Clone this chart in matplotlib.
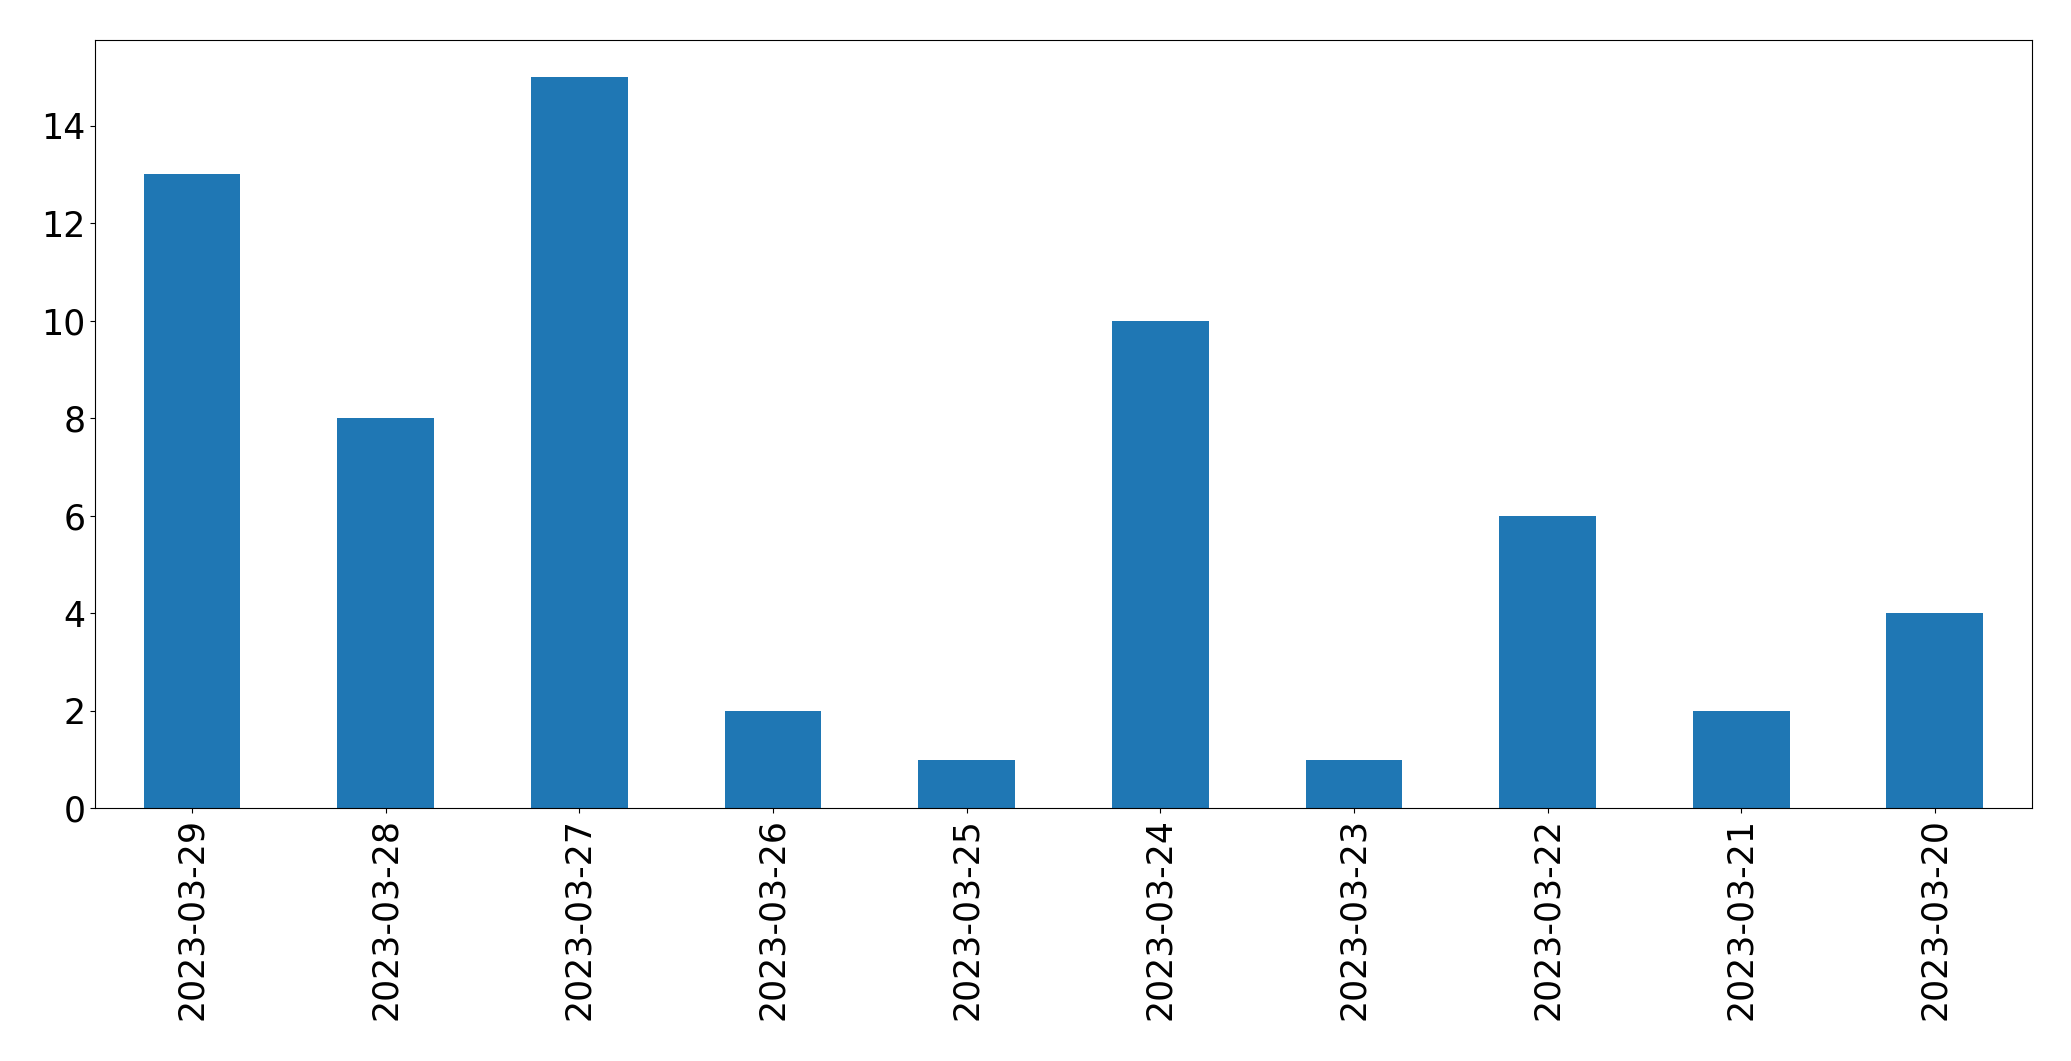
import matplotlib
matplotlib.use("Agg")
import matplotlib.pyplot as plt
import pandas as pd

dates = ["2023-03-29", "2023-03-28", "2023-03-27", "2023-03-26", "2023-03-25",
         "2023-03-24", "2023-03-23", "2023-03-22", "2023-03-21", "2023-03-20"]
counts = [13, 8, 15, 2, 1, 10, 1, 6, 2, 4]

s = pd.Series(counts, index=dates)

fig, ax = plt.subplots(figsize=(20.71, 10.61), dpi=100)
s.plot(kind="bar", ax=ax, color="#1f77b4")
ax.tick_params(labelsize=25)
fig.subplots_adjust(left=0.046, right=0.981, top=0.962, bottom=0.238)
fig.savefig("out.png", dpi=100)
